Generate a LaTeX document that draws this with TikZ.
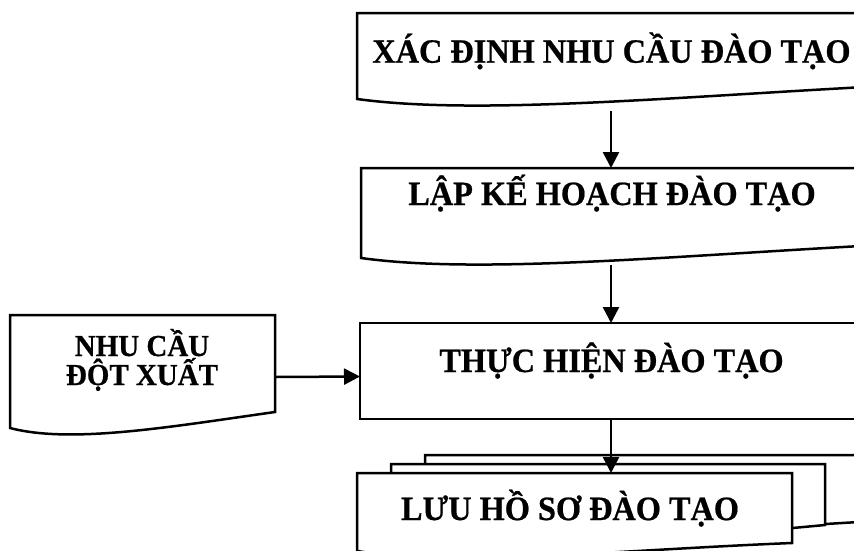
\documentclass[tikz,border=0pt]{standalone}
\usepackage{fontspec}
\setmainfont{Liberation Serif}
\newfontfamily\boxfont[FakeStretch=0.95,FakeBold=0.6]{Liberation Serif}
\usetikzlibrary{arrows.meta}

\tikzset{
  docframe/.style={draw=black, line width=2.5pt, fill=white, line join=miter},
  slot/.style={draw=none, inner sep=0pt, outer sep=0pt},
  boxtext/.style={font=\boxfont\bfseries\fontsize{34}{36}\selectfont, anchor=base, inner sep=0pt},
  sidetext/.style={font=\boxfont\bfseries\fontsize{30.5}{29}\selectfont, anchor=base, inner sep=0pt, align=center},
  flowarrow/.style={draw=black, line width=2.5pt, -{Triangle[length=16pt,width=16pt]}},
}

% document symbol: left, top, right, left-bottom y, right-bottom y
\newcommand\docoutline[5]{%
  \draw[docframe] (#1,#2) -- (#3,#2) -- (#3,#5)
    .. controls ({#1+0.6*(#3-#1)},{#4-1}) and ({#1+0.23*(#3-#1)},{#4+16}) .. (#1,#4) -- cycle;}

\begin{document}
\begin{tikzpicture}[x=1pt,y=-1pt]
\useasboundingbox (0,0) rectangle (854,550);
\clip (0,0) rectangle (854,550);

% training needs
\docoutline{357}{13}{865}{99}{87}
\node[slot, minimum width=508pt, minimum height=86pt] (need) at (611,56) {};
\node[boxtext] (needtext) at (611.5,62.7) {XÁC ĐỊNH NHU CẦU ĐÀO TẠO};

% training plan
\docoutline{361}{168}{861}{258}{246}
\node[slot, minimum width=500pt, minimum height=90pt] (plan) at (611,213) {};
\node[boxtext] (plantext) at (612,205) {LẬP KẾ HOẠCH ĐÀO TẠO};

% carrying out the training
\node[docframe, minimum width=502pt, minimum height=96pt, inner sep=0pt, outer sep=0pt] (run) at (611,371) {};
\node[boxtext] (runtext) at (611.5,372) {THỰC HIỆN ĐÀO TẠO};

% unplanned needs
\docoutline{10}{315}{275}{428}{412}
\node[slot, minimum width=265pt, minimum height=113pt] (urgent) at (142.5,371.5) {};
\node[sidetext] (urgenttext) at (142,385) {NHU CẦU\\ĐỘT XUẤT};

% training records (stacked documents)
\docoutline{425}{455}{859}{533}{522}
\docoutline{391}{464}{825}{542}{525}
\docoutline{357}{473}{792}{551}{543}
\node[slot, minimum width=435pt, minimum height=78pt] (records) at (574.5,512) {};
\node[boxtext] (recordstext) at (570,520) {LƯU HỒ SƠ ĐÀO TẠO};

% connectors
\draw[flowarrow] ([yshift=-12pt]need.south) -- (plan.north);
\draw[flowarrow] ([yshift=-7pt]plan.south) -- (run.north);
\draw[flowarrow] (run.south) -- (run.south |- records.north);
\draw[flowarrow] ([yshift=-5.5pt]urgent.east) -- ([yshift=-5.5pt]run.west);
\end{tikzpicture}
\end{document}
